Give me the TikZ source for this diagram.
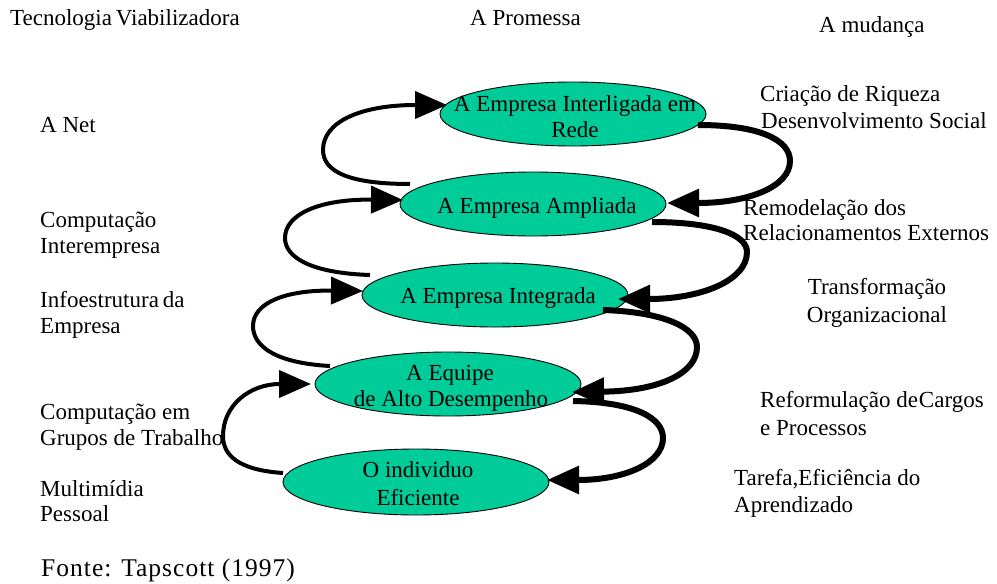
\documentclass[tikz,border=0pt]{standalone}
\usepackage{fontspec}
\setmainfont{Liberation Serif}
\usetikzlibrary{shapes.geometric,arrows.meta,calc}
\definecolor{stagegreen}{HTML}{00CC99}
\begin{document}
\begin{tikzpicture}[x=1pt,y=-1pt,
  stage/.style={ellipse, draw=black, line width=0.9pt, fill=stagegreen,
    minimum width=266pt, minimum height=64pt, inner sep=0pt},
  lbl/.style={anchor=base west, inner sep=0pt, font=\fontsize{23}{27}\selectfont},
  ctr/.style={anchor=base, inner sep=0pt, font=\fontsize{23}{27}\selectfont},
  loopl/.style={line width=4pt, -{Triangle[length=32pt,width=27pt]}},
  loopr/.style={line width=6pt, -{Triangle[length=32pt,width=27pt]}},
]
\useasboundingbox (0,0) rectangle (997,584);

% the five stages
\node[stage] (e1) at (573,114) {};
\node[stage] (e2) at (533,204) {};
\node[stage] (e3) at (495,295) {};
\node[stage] (e4) at (448,384) {};
\node[stage, minimum height=66pt] (e5) at (416,482) {};

% left loops: enabling technology lifts each stage to the next
\draw[loopl] ($(e2)+(-123,-20)$) .. controls (350,184) and (323,172) .. (323,150)
  .. controls (323,122) and (360,105) .. ($(e1)+(-126,-9)$);
\draw[loopl] ($(e3)+(-125,-20)$) .. controls (310,273) and (285,257) .. (285,238)
  .. controls (285,214) and (320,199) .. ($(e2)+(-130,-4)$);
\draw[loopl] ($(e4)+(-118,-18)$) .. controls (275,363) and (253,346) .. (253,326)
  .. controls (253,303) and (285,290) .. ($(e3)+(-132,-4)$);
\draw[loopl] ($(e5)+(-133,-9)$) .. controls (238,470) and (223,455) .. (223,436)
  .. controls (223,405) and (250,384) .. ($(e4)+(-137,0)$);

% right loops: the change feeds back to the stage below
\draw[loopr] ($(e1)+(125,11)$) .. controls (760,125) and (790,140) .. (790,161)
  .. controls (790,186) and (750,203) .. ($(e2)+(134,-1)$);
\draw[loopr] ($(e2)+(119,18)$) .. controls (715,222) and (747,235) .. (747,252)
  .. controls (747,281) and (700,299) .. ($(e3)+(123,4)$);
\draw[loopr] ($(e3)+(108,15)$) .. controls (665,312) and (697,328) .. (697,347)
  .. controls (697,373) and (660,391) .. ($(e4)+(124,8)$);
\draw[loopr] ($(e4)+(125,17)$) .. controls (635,402) and (663,418) .. (663,438)
  .. controls (663,463) and (625,480) .. ($(e5)+(131,-2)$);

% stage names
\node[ctr] (t1a) at (575,111) {A Empresa Interligada em};
\node[ctr] (t1b) at (575,137) {Rede};
\node[ctr] (t2) at (537,213) {A Empresa Ampliada};
\node[ctr] (t3) at (498,303) {A Empresa Integrada};
\node[ctr] (t4a) at (450,380) {A Equipe};
\node[ctr] (t4b) at (451,406) {de Alto Desempenho};
\node[ctr] (t5a) at (418,477) {O individuo};
\node[ctr] (t5b) at (418,505) {Eficiente};

% column headings
\node[lbl] (h1) at (10,25) {Tecnologia\,Viabilizadora};
\node[lbl] (h2) at (470,25) {A Promessa};
\node[lbl] (h3) at (819,32) {A mudança};

% enabling technologies
\node[lbl] (l1) at (40,132) {A Net};
\node[lbl] (l2a) at (40,227) {Computação};
\node[lbl] (l2b) at (40,253) {Interempresa};
\node[lbl] (l3a) at (40,307) {Infoestrutura\,da};
\node[lbl] (l3b) at (40,333) {Empresa};
\node[lbl] (l4a) at (40,419) {Computação em};
\node[lbl] (l4b) at (40,445) {Grupos de Trabalho};
\node[lbl] (l5a) at (40,496) {Multimídia};
\node[lbl] (l5b) at (40,521) {Pessoal};

% changes
\node[lbl] (r1a) at (760,101) {Criação de Riqueza};
\node[lbl] (r1b) at (761,128) {Desenvolvimento Social};
\node[lbl] (r2a) at (743,215) {Remodelação dos};
\node[lbl] (r2b) at (743,240) {Relacionamentos Externos};
\node[ctr] (r3a) at (877,294) {Transformação};
\node[ctr] (r3b) at (877,322) {Organizacional};
\node[lbl] (r4a) at (760,407) {Reformulação de\kern1pt Cargos};
\node[lbl] (r4b) at (760,435) {e Processos};
\node[lbl] (r5a) at (734,485) {Tarefa,Eficiência do};
\node[lbl] (r5b) at (734,512) {Aprendizado};

% source
\node[anchor=base west, inner sep=0pt,
  font=\fontsize{25.5}{30}\selectfont\addfontfeature{LetterSpace=4}]
  (src) at (41,576) {Fonte: Tapscott (1997)};
\end{tikzpicture}
\end{document}
